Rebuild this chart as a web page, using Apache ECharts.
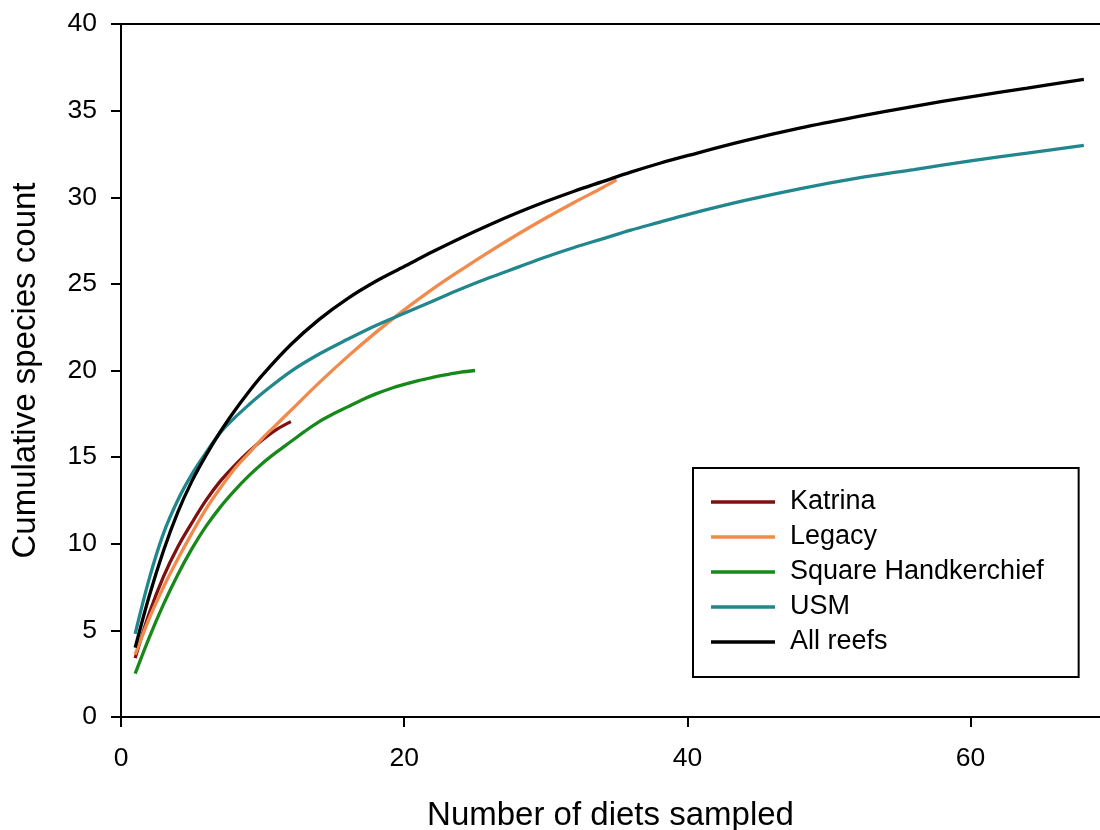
<!DOCTYPE html>
<html>
<head>
<meta charset="utf-8">
<title>Cumulative species count</title>
<script src="https://cdn.jsdelivr.net/npm/echarts@6/dist/echarts.min.js"></script>
<style>
  html, body { margin: 0; padding: 0; background: #fff; }
  #chart { width: 1100px; height: 830px; }
</style>
</head>
<body>
<div id="chart"></div>
<script>
// Species accumulation curves by reef
const xTicks = [0, 20, 40, 60];

const katrinaX = [1, 2, 3, 4, 5, 6, 7, 8, 9, 10, 11, 12];
const katrinaY = [3.4, 6.0, 8.1, 9.8, 11.2, 12.5, 13.6, 14.5, 15.3, 16.0, 16.6, 17.05];

const legacyX = [1, 2, 3, 4, 5, 6, 7, 8, 9, 10, 11, 12, 14, 16, 18, 20, 22, 24, 26, 28, 30, 32, 34, 35];
const legacyY = [3.6, 5.7, 7.5, 9.1, 10.6, 12.0, 13.2, 14.3, 15.2, 16.1, 16.9, 17.7, 19.3, 20.8, 22.2, 23.5, 24.7, 25.8, 26.85, 27.85, 28.8, 29.7, 30.55, 31.0];

const squareX = [1, 2, 3, 4, 5, 6, 7, 8, 9, 10, 11, 12, 13, 14, 15, 16, 17, 18, 19, 20, 21, 22, 23, 24, 25];
const squareY = [2.5, 4.6, 6.5, 8.2, 9.7, 11.0, 12.1, 13.05, 13.9, 14.65, 15.3, 15.9, 16.5, 17.05, 17.5, 17.9, 18.3, 18.65, 18.95, 19.2, 19.42, 19.6, 19.76, 19.9, 20.0];

const usmX = [1, 2, 3, 4, 5, 6, 7, 8, 9, 10, 12, 14, 16, 18, 20, 22, 24, 26, 28, 30, 32, 34, 36, 38, 40, 44, 48, 52, 56, 60, 64, 68];
const usmY = [4.8, 8.0, 10.6, 12.5, 14.0, 15.25, 16.4, 17.25, 18.0, 18.7, 19.95, 20.95, 21.8, 22.6, 23.3, 24.0, 24.7, 25.35, 25.95, 26.55, 27.1, 27.6, 28.1, 28.55, 29.0, 29.8, 30.5, 31.1, 31.6, 32.1, 32.55, 33.0];

const allX = [1, 2, 3, 4, 5, 6, 7, 8, 9, 10, 12, 14, 16, 18, 20, 22, 24, 26, 28, 30, 32, 34, 36, 38, 40, 44, 48, 52, 56, 60, 64, 68];
const allY = [4.0, 7.0, 9.6, 11.8, 13.6, 15.1, 16.45, 17.65, 18.75, 19.75, 21.5, 22.95, 24.15, 25.15, 26.0, 26.85, 27.65, 28.4, 29.1, 29.75, 30.35, 30.9, 31.45, 31.95, 32.4, 33.25, 34.0, 34.65, 35.25, 35.8, 36.3, 36.8];

const pairs = (xs, ys) => xs.map((x, i) => [x, ys[i]]);

const FONT = '"Liberation Sans", Arial, sans-serif';

function curve(name, xs, ys, color) {
  return {
    name: name,
    type: 'line',
    data: pairs(xs, ys),
    smooth: 0.35,
    symbol: 'none',
    showSymbol: false,
    lineStyle: { color: color, width: 3.3 },
    itemStyle: { color: color },
    emphasis: { disabled: true },
    z: 3
  };
}

const chart = echarts.init(document.getElementById('chart'), null, { renderer: 'canvas' });

chart.setOption({
  animation: false,
  backgroundColor: '#ffffff',
  grid: { left: 121, top: 24, right: 0, bottom: 113, containLabel: false, outerBoundsMode: 'none' },
  xAxis: [
    {
      type: 'value',
      min: 0,
      max: 69.14,
      position: 'bottom',
      name: 'Number of diets sampled',
      nameLocation: 'middle',
      nameGap: 82,
      nameTextStyle: { fontFamily: FONT, fontSize: 33, color: '#000' },
      axisLine: { show: true, onZero: false, lineStyle: { color: '#000', width: 2 } },
      axisTick: { show: true, inside: false, length: 10, customValues: xTicks, lineStyle: { color: '#000', width: 2 } },
      axisLabel: { customValues: xTicks, margin: 28, fontFamily: FONT, fontSize: 26.5, color: '#000' },
      splitLine: { show: false }
    },
    {
      type: 'value',
      min: 0,
      max: 69.14,
      position: 'top',
      axisLine: { show: true, onZero: false, lineStyle: { color: '#000', width: 2 } },
      axisTick: { show: false },
      axisLabel: { show: false },
      splitLine: { show: false }
    }
  ],
  yAxis: {
    type: 'value',
    min: 0,
    max: 40,
    interval: 5,
    name: 'Cumulative species count',
    nameLocation: 'middle',
    nameGap: 79,
    nameTextStyle: { fontFamily: FONT, fontSize: 33, color: '#000' },
    axisLine: { show: true, onZero: false, lineStyle: { color: '#000', width: 2 } },
    axisTick: { show: true, inside: false, length: 10, lineStyle: { color: '#000', width: 2 } },
    axisLabel: { margin: 24, fontFamily: FONT, fontSize: 26.5, color: '#000' },
    splitLine: { show: false }
  },
  legend: {
    orient: 'vertical',
    left: 693,
    top: 468,
    padding: [19, 35, 20, 18],
    backgroundColor: '#fff',
    borderColor: '#000',
    borderWidth: 2,
    borderRadius: 0,
    itemWidth: 64,
    itemHeight: 14,
    itemGap: 5,
    icon: 'path://M0,5.5 L64,5.5 L64,8.8 L0,8.8 Z',
    selectedMode: false,
    textStyle: { fontFamily: FONT, fontSize: 27, lineHeight: 30, color: '#000', padding: [0, 0, 0, 10] },
    data: ['Katrina', 'Legacy', 'Square Handkerchief', 'USM', 'All reefs']
  },
  series: [
    curve('Katrina', katrinaX, katrinaY, '#7E1010'),
    curve('Legacy', legacyX, legacyY, '#F28A4C'),
    curve('Square Handkerchief', squareX, squareY, '#17891A'),
    curve('USM', usmX, usmY, '#21878D'),
    curve('All reefs', allX, allY, '#000000')
  ]
});
</script>
</body>
</html>
